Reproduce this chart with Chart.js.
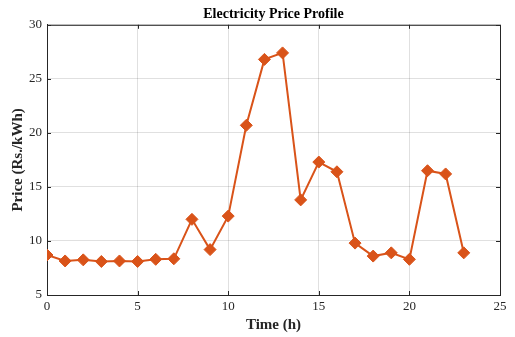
<!DOCTYPE html>
<html>
<head>
<meta charset="utf-8">
<script src="https://cdn.jsdelivr.net/npm/chart.js@4.4.1/dist/chart.umd.min.js"></script>
<style>
  html, body { margin: 0; padding: 0; background: #fff; }
  #wrap { width: 515px; height: 337px; }
</style>
</head>
<body>
<div id="wrap"><canvas id="priceChart"></canvas></div>
<script>
// Electricity price profile - hourly values
const hours = [0, 1, 2, 3, 4, 5, 6, 7, 8, 9, 10, 11, 12, 13, 14, 15, 16, 17, 18, 19, 20, 21, 22, 23];
const prices = [8.7, 8.15, 8.25, 8.1, 8.15, 8.1, 8.3, 8.35, 12.0, 9.2, 12.3, 20.7, 26.8, 27.4, 13.8, 17.3, 16.4, 9.8, 8.6, 8.9, 8.3, 16.5, 16.2, 8.9];
const xTicks = [0, 5, 10, 15, 20, 25];
const yTicks = [5, 10, 15, 20, 25, 30];

const axisColor = '#262626';
const serif = "'Liberation Serif', 'Times New Roman', serif";

// box on top/right + inward tick marks like the original figure
const boxPlugin = {
    id: 'boxTicks',
    afterDraw(chart) {
        const ctx = chart.ctx;
        const a = chart.chartArea;
        const xs = chart.scales.x;
        const ys = chart.scales.y;
        ctx.save();
        ctx.strokeStyle = axisColor;
        ctx.lineWidth = 1;
        ctx.beginPath();
        ctx.moveTo(a.left, a.top + 0.5);
        ctx.lineTo(a.right + 0.5, a.top + 0.5);
        ctx.lineTo(a.right + 0.5, a.bottom);
        const len = 4;
        xTicks.forEach(v => {
            const px = Math.round(xs.getPixelForValue(v)) + 0.5;
            ctx.moveTo(px, a.bottom); ctx.lineTo(px, a.bottom - len);
            ctx.moveTo(px, a.top); ctx.lineTo(px, a.top + len);
        });
        yTicks.forEach(v => {
            const py = Math.round(ys.getPixelForValue(v)) + 0.5;
            ctx.moveTo(a.left, py); ctx.lineTo(a.left + len, py);
            ctx.moveTo(a.right, py); ctx.lineTo(a.right - len, py);
        });
        ctx.stroke();
        ctx.restore();
    }
};

new Chart(document.getElementById('priceChart'), {
    type: 'line',
    data: {
        datasets: [{
            label: 'Price',
            data: hours.map((h, i) => ({ x: h, y: prices[i] })),
            borderColor: '#D95319',
            backgroundColor: '#D95319',
            borderWidth: 2,
            tension: 0,
            pointStyle: 'rectRot',
            pointRadius: 6,
            pointBorderWidth: 1,
            pointBorderColor: '#D95319',
            pointBackgroundColor: '#D95319'
        }]
    },
    options: {
        responsive: true,
        maintainAspectRatio: false,
        animation: false,
        layout: { padding: { left: 0, right: 15, top: 0, bottom: 0 } },
        plugins: {
            legend: { display: false },
            tooltip: { enabled: false },
            title: {
                display: true,
                text: 'Electricity Price Profile',
                color: '#000',
                fullSize: false,
                font: { family: serif, size: 14, weight: 'bold' },
                padding: { top: 6, bottom: 2 }
            }
        },
        scales: {
            x: {
                type: 'linear',
                min: 0,
                max: 25,
                afterFit: s => { s.height = 42; },
                afterBuildTicks: s => { s.ticks = xTicks.map(v => ({ value: v })); },
                grid: { color: 'rgba(0,0,0,0.12)', drawTicks: false },
                border: { color: axisColor, width: 1 },
                ticks: { color: axisColor, padding: 4, maxRotation: 0, font: { family: serif, size: 13 } },
                title: {
                    display: true,
                    text: 'Time (h)',
                    color: axisColor,
                    font: { family: serif, size: 15, weight: 'bold' },
                    padding: { top: 0, bottom: 3 }
                }
            },
            y: {
                min: 5,
                max: 30,
                afterFit: s => { s.width = 47; },
                afterBuildTicks: s => { s.ticks = yTicks.map(v => ({ value: v })); },
                grid: { color: 'rgba(0,0,0,0.12)', drawTicks: false },
                border: { color: axisColor, width: 1 },
                ticks: { color: axisColor, padding: 5, font: { family: serif, size: 13 } },
                title: {
                    display: true,
                    text: 'Price (Rs./kWh)',
                    color: axisColor,
                    font: { family: serif, size: 15, weight: 'bold' },
                    padding: { top: 9, bottom: 9 }
                }
            }
        }
    },
    plugins: [boxPlugin]
});
</script>
</body>
</html>
